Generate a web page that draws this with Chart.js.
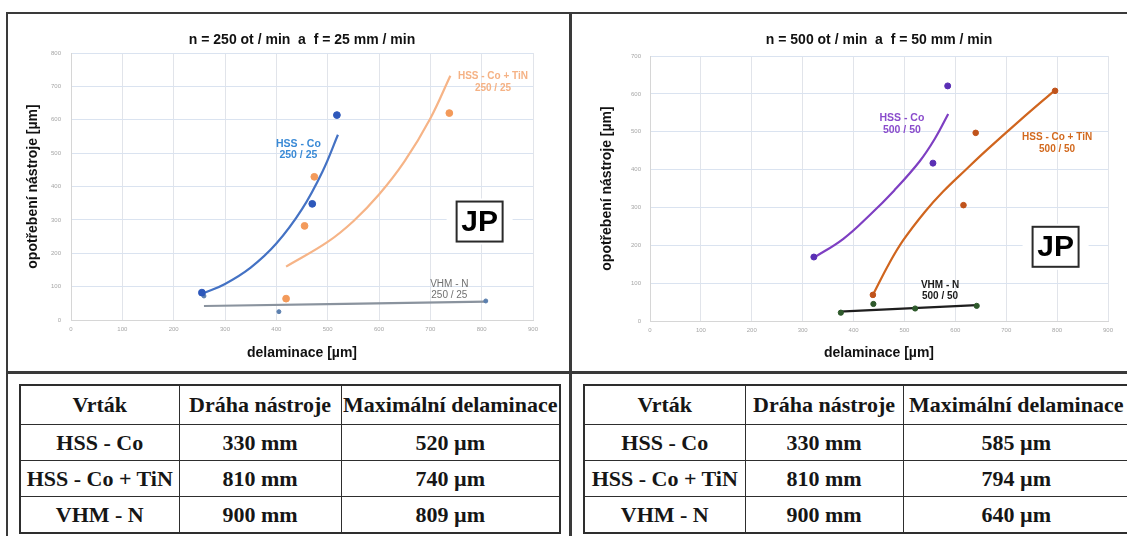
<!DOCTYPE html>
<html>
<head>
<meta charset="utf-8">
<script src="https://cdn.jsdelivr.net/npm/chart.js@4"></script>
<style>
  html, body { margin: 0; padding: 0; background: #fff; }
  body { width: 1127px; height: 536px; position: relative; overflow: hidden; }
  #frame { position: absolute; left: 6px; top: 12px; width: 1130px; height: 540px; border: 2px solid #3a3a3a; box-sizing: border-box; }
  .vline { position: absolute; left: 569px; top: 12px; width: 3px; height: 530px; background: #3a3a3a; }
  .hline { position: absolute; left: 6px; top: 371px; width: 1125px; height: 3px; background: #3a3a3a; }
  canvas { position: absolute; top: 15px; }
  #c250 { left: 9px; }
  #c500 { left: 573px; }
  table { position: absolute; top: 384px; border-collapse: collapse; table-layout: fixed;
          font: bold 22px "Liberation Serif", "Times New Roman", serif; color: #161616; border: 2px solid #2e2e2e; }
  td { border: 1.5px solid #2e2e2e; text-align: center; padding: 0; height: 35px; white-space: nowrap; }
  tr:first-child td { height: 38px; }
</style>
</head>
<body>
<div id="frame"></div>
<div class="vline"></div>
<div class="hline"></div>
<canvas id="c250" width="559" height="356"></canvas>
<canvas id="c500" width="554" height="356"></canvas>
<table id="t250"></table>
<table id="t500"></table>
<script>
// ---- n = 250 ot/min, f = 25 mm/min ----
const hssCo250X = [255, 470, 518];
const hssCo250Y = [82, 348, 614];
const hssCo250TrendX = [258, 300, 350, 400, 450, 490, 520];
const hssCo250TrendY = [80, 108, 157, 229, 332, 445, 555];
const tin250X = [419, 455, 474, 737];
const tin250Y = [64, 282, 429, 620];
const tin250TrendX = [419, 500, 550, 600, 650, 700, 739];
const tin250TrendY = [160, 234, 296, 376, 476, 604, 732];
const vhm250X = [259, 405, 808];
const vhm250Y = [72, 25, 57];
const vhm250TrendX = [259, 808];
const vhm250TrendY = [42, 55];

// ---- n = 500 ot/min, f = 50 mm/min ----
const hssCo500X = [322, 556, 585];
const hssCo500Y = [169, 417, 621];
const hssCo500TrendX = [323, 380, 432, 480, 530, 560, 586];
const hssCo500TrendY = [168, 217, 280, 345, 422, 482, 547];
const tin500X = [438, 616, 640, 796];
const tin500Y = [69, 306, 497, 608];
const tin500TrendX = [438, 470, 498, 540, 576, 620, 662, 727, 796];
const tin500TrendY = [69, 152, 214, 288, 342, 399, 452, 530, 610];
const vhm500X = [375, 439, 521, 642];
const vhm500Y = [22, 45, 33, 40];
const vhm500TrendX = [372, 642];
const vhm500TrendY = [25, 42];

// ---- tabulky ----
const tableHead = ['Vrták', 'Dráha nástroje', 'Maximální delaminace'];
const drills = ['HSS - Co', 'HSS - Co + TiN', 'VHM - N'];
const toolPath = ['330 mm', '810 mm', '900 mm'];
const maxDelam250 = ['520 µm', '740 µm', '809 µm'];
const maxDelam500 = ['585 µm', '794 µm', '640 µm'];

const pts = (xs, ys) => xs.map((x, i) => ({x: x, y: ys[i]}));

function markers(data, color, r) {
  return {data: data, backgroundColor: color, borderColor: color, pointRadius: r, showLine: false};
}
function trend(data, color) {
  return {data: data, borderColor: color, borderWidth: 2.2, pointRadius: 0, showLine: true,
          tension: 0.4, fill: false};
}

// popisky, titulek a JP box
const extras = {
  id: 'extras',
  afterDatasetsDraw(chart, args, opts) {
    const {ctx, chartArea} = chart;
    const sx = chart.scales.x, sy = chart.scales.y;
    ctx.save();
    ctx.textAlign = 'center';
    ctx.textBaseline = 'middle';
    ctx.fillStyle = '#111';
    ctx.font = 'bold 14px "Liberation Sans", Arial, sans-serif';
    ctx.fillText(opts.title, (chartArea.left + chartArea.right) / 2, 25);

    opts.notes.forEach(n => {
      ctx.font = n.font;
      ctx.fillStyle = n.color;
      const cx = sx.getPixelForValue(n.x), cy = sy.getPixelForValue(n.y);
      n.lines.forEach((t, i) => ctx.fillText(t, cx, cy + (i - (n.lines.length - 1) / 2) * 11.5));
    });

    const jx = sx.getPixelForValue(opts.jp.x), jy = sy.getPixelForValue(opts.jp.y);
    ctx.fillStyle = '#fff';
    ctx.fillRect(jx - 33, jy - 23, 66, 46);
    ctx.strokeStyle = '#2a2a2a';
    ctx.lineWidth = 2;
    ctx.strokeRect(jx - 23, jy - 20, 46, 40);
    ctx.fillStyle = '#000';
    ctx.font = 'bold 30px "Liberation Sans", Arial, sans-serif';
    ctx.fillText('JP', jx, jy + 1);
    ctx.restore();
  }
};

function makeChart(id, datasets, yMax, lay, plug) {
  return new Chart(document.getElementById(id), {
    type: 'scatter',
    data: {datasets: datasets},
    options: {
      responsive: false,
      devicePixelRatio: 1,
      animation: false,
      layout: {padding: {left: 0, right: lay.right, top: lay.top, bottom: 0}},
      plugins: {legend: {display: false}, tooltip: {enabled: false}, extras: plug},
      scales: {
        x: {
          type: 'linear', min: 0, max: 900,
          ticks: {stepSize: 100, color: '#a6a6a6', font: {size: 6}, padding: 6, maxRotation: 0},
          grid: {color: '#e1e4ea', drawTicks: false},
          border: {color: '#d6d6d6'},
          title: {display: true, text: 'delaminace [µm]', color: '#111',
                  font: {size: 14, weight: 'bold', family: '"Liberation Sans", Arial'}, padding: {top: 0, bottom: 9.6}},
          afterFit: s => { s.height = lay.xh; }
        },
        y: {
          min: 0, max: yMax,
          ticks: {stepSize: 100, color: '#a6a6a6', font: {size: 6}, padding: lay.ypad},
          grid: {color: '#dae3f0', drawTicks: false},
          border: {color: '#d6d6d6'},
          title: {display: true, text: 'opotřebení nástroje [µm]', color: '#111',
                  font: {size: 14, weight: 'bold', family: '"Liberation Sans", Arial'}, padding: {top: lay.ytp, bottom: 0}},
          afterFit: s => { s.width = lay.yw; }
        }
      }
    },
    plugins: [extras]
  });
}

makeChart('c250', [
  markers(pts(hssCo250X, hssCo250Y), '#2d58bb', 3.4),
  markers(pts(tin250X, tin250Y), '#f39a5a', 3.4),
  markers(pts(vhm250X, vhm250Y), '#5b7fae', 2),
  trend(pts(hssCo250TrendX, hssCo250TrendY), '#4472c4'),
  trend(pts(tin250TrendX, tin250TrendY), '#f6b487'),
  trend(pts(vhm250TrendX, vhm250TrendY), '#8a939e')
], 800, {right: 35, top: 38, xh: 51, yw: 62, ypad: 10, ytp: 15.6}, {
  title: 'n = 250 ot / min  a  f = 25 mm / min',
  notes: [
    {lines: ['HSS - Co', '250 / 25'], x: 443, y: 511, color: '#3a8ad6', font: 'bold 10.5px "Liberation Sans", Arial'},
    {lines: ['HSS - Co + TiN', '250 / 25'], x: 822, y: 713, color: '#f5b285', font: 'bold 10px "Liberation Sans", Arial'},
    {lines: ['VHM - N', '250 / 25'], x: 737, y: 90, color: '#707070', font: '10px "Liberation Sans", Arial'}
  ],
  jp: {x: 796, y: 295}
});

makeChart('c500', [
  markers(pts(hssCo500X, hssCo500Y), '#5a2fb5', 3),
  markers(pts(tin500X, tin500Y), '#c0531b', 2.8),
  markers(pts(vhm500X, vhm500Y), '#2f5a2c', 2.6),
  trend(pts(hssCo500TrendX, hssCo500TrendY), '#7e3fc2'),
  trend(pts(tin500TrendX, tin500TrendY), '#d0651e'),
  trend(pts(vhm500TrendX, vhm500TrendY), '#1e1e1e')
], 700, {right: 19, top: 41, xh: 50, yw: 77, ypad: 9, ytp: 25.6}, {
  title: 'n = 500 ot / min  a  f = 50 mm / min',
  notes: [
    {lines: ['HSS - Co', '500 / 50'], x: 495, y: 520, color: '#8a4ccc', font: 'bold 10.5px "Liberation Sans", Arial'},
    {lines: ['HSS - Co + TiN', '500 / 50'], x: 800, y: 470, color: '#d2691e', font: 'bold 10px "Liberation Sans", Arial'},
    {lines: ['VHM - N', '500 / 50'], x: 570, y: 80, color: '#1a1a1a', font: 'bold 10px "Liberation Sans", Arial'}
  ],
  jp: {x: 797, y: 196}
});

function fillTable(id, left, widths, delam) {
  const t = document.getElementById(id);
  t.style.left = left + 'px';
  t.style.width = widths.reduce((a, b) => a + b, 0) + 'px';
  const cg = document.createElement('colgroup');
  widths.forEach(w => { const c = document.createElement('col'); c.style.width = w + 'px'; cg.appendChild(c); });
  t.appendChild(cg);
  const rows = [tableHead].concat(drills.map((d, i) => [d, toolPath[i], delam[i]]));
  rows.forEach(r => {
    const tr = t.insertRow();
    r.forEach(v => { tr.insertCell().textContent = v; });
  });
}
fillTable('t250', 19, [159, 162, 219], maxDelam250);
fillTable('t500', 583, [161, 158, 227], maxDelam500);
</script>
</body>
</html>
